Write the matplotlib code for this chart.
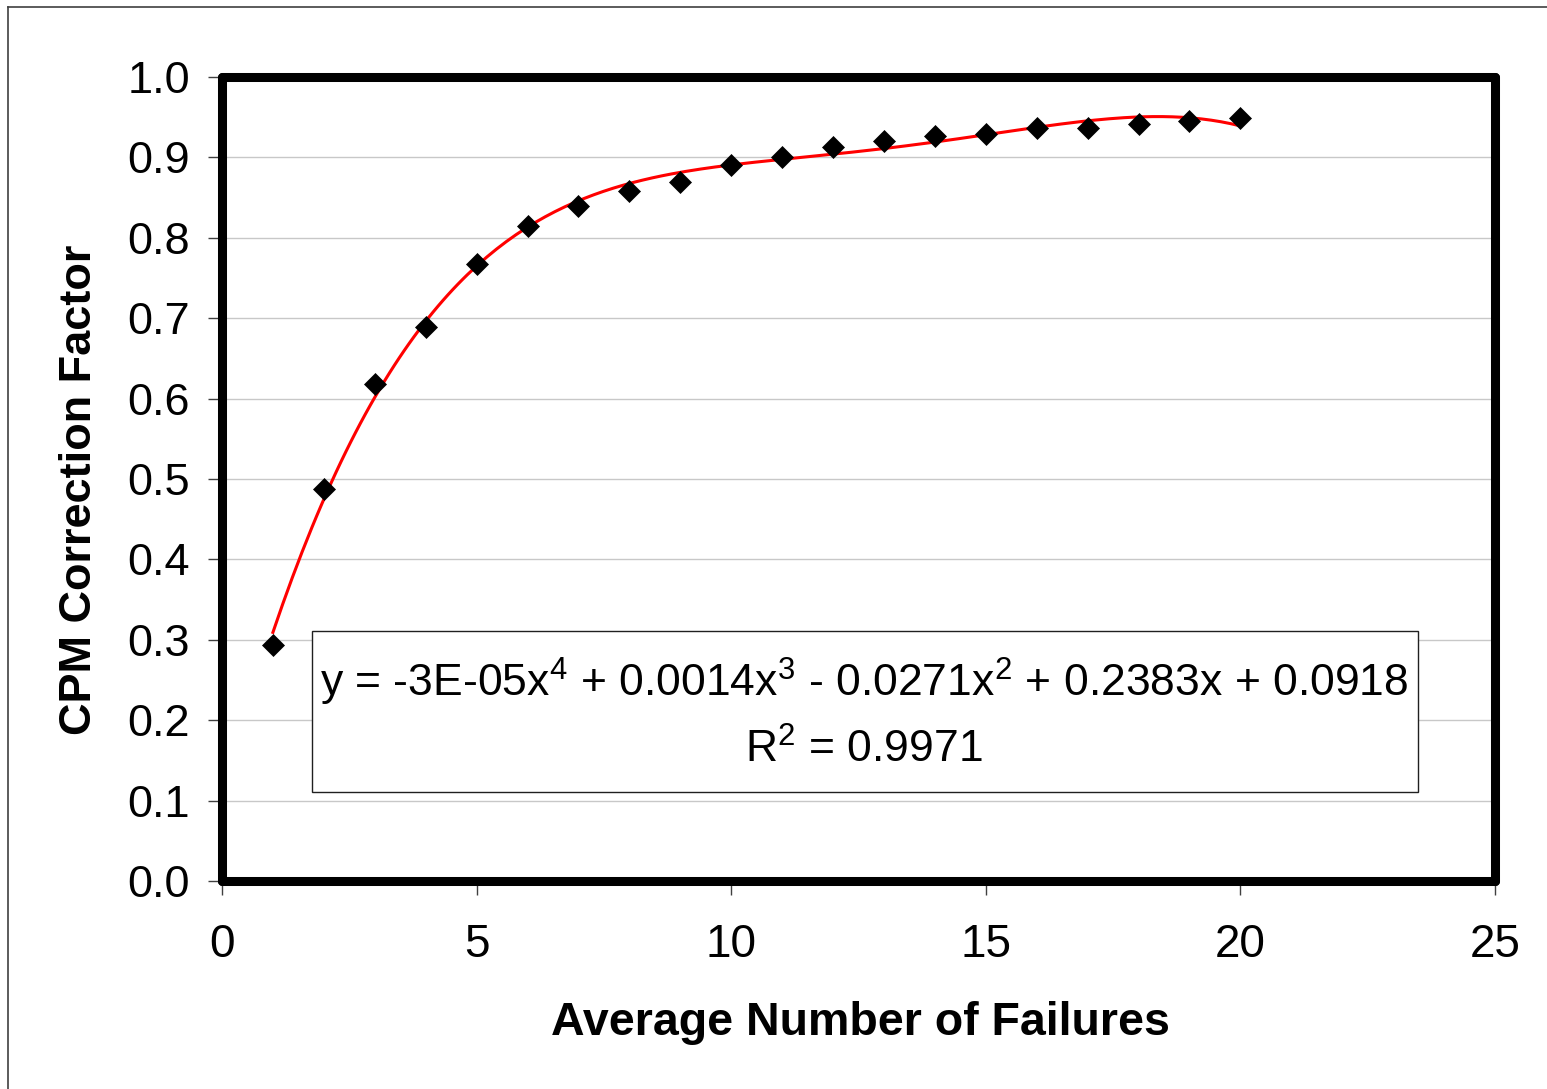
import numpy as np
import matplotlib
matplotlib.use("Agg")
import matplotlib.pyplot as plt
from matplotlib.lines import Line2D
from matplotlib.patches import Rectangle

plt.rcParams['font.family'] = ['Liberation Sans', 'DejaVu Sans']
plt.rcParams['mathtext.fontset'] = 'custom'
plt.rcParams['mathtext.rm'] = 'Liberation Sans'
plt.rcParams['mathtext.it'] = 'Liberation Sans'

# ---- data ----
failures = [1, 2, 3, 4, 5, 6, 7, 8, 9, 10, 11, 12, 13, 14, 15, 16, 17, 18, 19, 20]
cpm_factor = [0.294, 0.488, 0.618, 0.689, 0.767, 0.815, 0.839, 0.858, 0.870, 0.890,
              0.901, 0.913, 0.921, 0.926, 0.929, 0.937, 0.937, 0.941, 0.945, 0.949]
x_ticks = [0, 5, 10, 15, 20, 25]
y_ticks = [0.0, 0.1, 0.2, 0.3, 0.4, 0.5, 0.6, 0.7, 0.8, 0.9, 1.0]
y_ticklabels = ["0.0", "0.1", "0.2", "0.3", "0.4", "0.5", "0.6", "0.7", "0.8", "0.9", "1.0"]
x_label = "Average Number of Failures"
y_label = "CPM Correction Factor"
equation = r"y = -3E-05x$^{4}$ + 0.0014x$^{3}$ - 0.0271x$^{2}$ + 0.2383x + 0.0918"
r2_text = r"R$^{2}$ = 0.9971"

W, H = 1547, 1089
Y0 = 881
fig = plt.figure(figsize=(W / 100, H / 100), dpi=100)
ax = fig.add_axes([222 / W, 1 - Y0 / H, (1495 - 222) / W, (Y0 - 77) / H])
AH = Y0 - 77

ax.set_xlim(0, 25)
ax.set_ylim(0, 1.0)

# grid
for yv in y_ticks[1:-1]:
    ax.axhline(yv, color='#c8c8c8', lw=1.0, zorder=0)

# trendline (4th order polynomial fit)
coef = np.polyfit(failures, cpm_factor, 4)
xs = np.linspace(min(failures), max(failures), 200)
ax.plot(xs, np.polyval(coef, xs), color='#ff0000', lw=2.2, zorder=3)

# data points
ax.plot(failures, cpm_factor, linestyle='none', marker='D', markersize=11.5,
        color='black', markeredgewidth=0.5, zorder=4)

ax.set_xticks(x_ticks)
ax.set_xticklabels([str(v) for v in x_ticks])
ax.set_yticks(y_ticks)
ax.set_yticklabels(y_ticklabels)
ax.tick_params(axis='both', direction='out', length=10, width=1.0, color='#404040',
               labelsize=33, labelcolor='black')
ax.tick_params(axis='y', pad=13, labelsize=32.5)
ax.tick_params(axis='x', pad=20)

for sp in ax.spines.values():
    sp.set_linewidth(6.5)
    sp.set_color('black')
    sp.set_capstyle('round')
    sp.set_zorder(5)

# equation box
ax.add_patch(Rectangle((90 / 1273, (Y0 - 792) / AH), (1418 - 312) / 1273, (792 - 631) / AH,
                       transform=ax.transAxes, facecolor='white', edgecolor='#202020',
                       lw=1.0, zorder=2))
ax.text((864 - 222) / 1273, (Y0 - 697) / AH, equation, transform=ax.transAxes,
        ha='center', va='baseline', fontsize=32, zorder=6)
ax.text((864 - 222) / 1273, (Y0 - 763) / AH, r2_text, transform=ax.transAxes,
        ha='center', va='baseline', fontsize=32, zorder=6)

# axis labels
fig.text(860 / W, 1 - 1035 / H, x_label, ha='center', va='baseline',
         fontsize=33.5, fontweight='bold')
fig.text(80 / W, 1 - 490 / H, y_label, ha='center', va='center', rotation=90,
         fontsize=32.5, fontweight='bold')

# outer figure border (left and top)
fig.add_artist(Line2D([8 / W, 8 / W], [0, 1 - 7 / H], transform=fig.transFigure,
                      color='#404040', lw=1.2))
fig.add_artist(Line2D([8 / W, 1], [1 - 7 / H, 1 - 7 / H], transform=fig.transFigure,
                      color='#404040', lw=1.2))

fig.savefig("out.png", dpi=100)
